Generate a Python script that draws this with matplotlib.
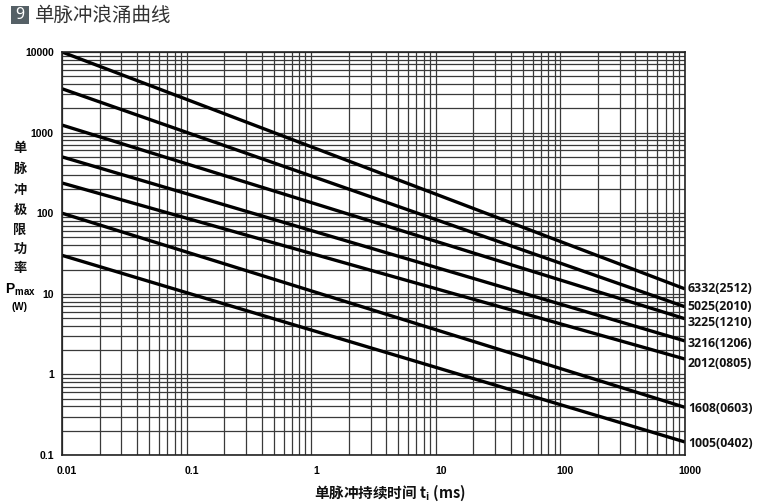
import matplotlib
matplotlib.use("Agg")
import matplotlib.pyplot as plt
import numpy as np
from matplotlib.ticker import LogLocator, FixedLocator, NullFormatter
import matplotlib.transforms as mtrans
from matplotlib.patches import Rectangle

plt.rcParams['font.family'] = ['Noto Sans CJK SC', 'DejaVu Sans']

# Data
series_names = ["6332(2512)", "5025(2010)", "3225(1210)", "3216(1206)",
                "2012(0805)", "1608(0603)", "1005(0402)"]
t_range = [0.01, 1000]
p_start = [10000, 3500, 1240, 500, 237, 100, 30]
p_end = [11.5, 6.9, 4.9, 2.6, 1.55, 0.39, 0.145]
label_dy = [0, 0, -3, -2, -3, -1, -1]

x_ticks = [0.01, 0.1, 1, 10, 100, 1000]
x_ticklabels = ["0.01", "0.1", "1", "10", "100", "1000"]
y_ticks = [0.1, 1, 10, 100, 1000, 10000]
y_ticklabels = ["0.1", "1", "10", "100", "1000", "10000"]

title_num = "9"
title_text = "单脉冲浪涌曲线"
x_label = "单脉冲持续时间 t"
y_label_chars = ["单", "脉", "冲", "极", "限", "功", "率"]

fig = plt.figure(figsize=(7.65, 5.03), dpi=100)
ax = fig.add_axes([62/765, 1-455/503, 623/765, 403/503])
ax.set_xscale('log')
ax.set_yscale('log')
ax.set_xlim(t_range)
ax.set_ylim(0.1, 10000)

ax.xaxis.set_major_locator(FixedLocator(x_ticks))
ax.yaxis.set_major_locator(FixedLocator(y_ticks))
ax.xaxis.set_minor_locator(LogLocator(base=10, subs=np.arange(2, 10)))
ax.yaxis.set_minor_locator(LogLocator(base=10, subs=np.arange(2, 10)))
ax.xaxis.set_minor_formatter(NullFormatter())
ax.yaxis.set_minor_formatter(NullFormatter())
ax.set_xticklabels(x_ticklabels)
ax.set_yticklabels(y_ticklabels)
ax.grid(True, which='both', color='#3a3a3a', linewidth=0.9)
ax.tick_params(which='both', length=0)
ax.tick_params(axis='x', pad=8)
ax.tick_params(axis='y', pad=6)
for lab in ax.get_xticklabels() + ax.get_yticklabels():
    lab.set_family(['Liberation Sans', 'DejaVu Sans'])
    lab.set_fontweight('bold')
    lab.set_fontsize(7.5)
off = mtrans.ScaledTranslation(5/100, 0, fig.dpi_scale_trans)
for lab in ax.get_xticklabels():
    lab.set_transform(lab.get_transform() + off)

for s in ax.spines.values():
    s.set_color('#222222')
    s.set_linewidth(1.2)

for name, p0, p1, dy in zip(series_names, p_start, p_end, label_dy):
    ax.plot(t_range, [p0, p1], color='black', linewidth=2.4, solid_capstyle='butt')
    ax.annotate(name, xy=(t_range[1], p1), xytext=(2, dy), textcoords='offset points',
                va='center', ha='left', fontsize=8.8, fontweight='bold',
                family=['Open Sans', 'DejaVu Sans'], color='#111111',
                annotation_clip=False)

# Title
fig.patches.append(Rectangle((11/765, 1-24/503), 18/765, 18/503,
                             transform=fig.transFigure, fc='#556066', ec='none'))
fig.text(20/765, 1-15/503, title_num, ha='center', va='center', color='white',
         fontsize=11.5, family=['Noto Sans', 'DejaVu Sans'])
fig.text(35/765, 1-15/503, title_text, ha='left', va='center', color='#333333',
         fontsize=14)

# Y label stacked
ys = [148, 169, 190, 210, 230, 249, 268]
for ch, yy in zip(y_label_chars, ys):
    fig.text(20/765, 1-yy/503, ch, ha='center', va='center', fontsize=9.5,
             fontweight='bold', color='#111111')
fig.text(20/765, 1-290/503, r"P$_{\mathregular{max}}$", ha='center', va='center',
         fontsize=10, fontweight='bold', family=['Liberation Sans', 'DejaVu Sans'])
fig.text(20/765, 1-307/503, "(W)", ha='center', va='center',
         fontsize=7, fontweight='bold', family=['Liberation Sans', 'DejaVu Sans'])

# X label
fig.text(390/765, 1-493/503, x_label + r"$_{\mathregular{i}}$" + " (ms)", ha='center', va='center',
         fontsize=10.5, fontweight='bold', color='#111111')

fig.savefig("out.png", dpi=100)
